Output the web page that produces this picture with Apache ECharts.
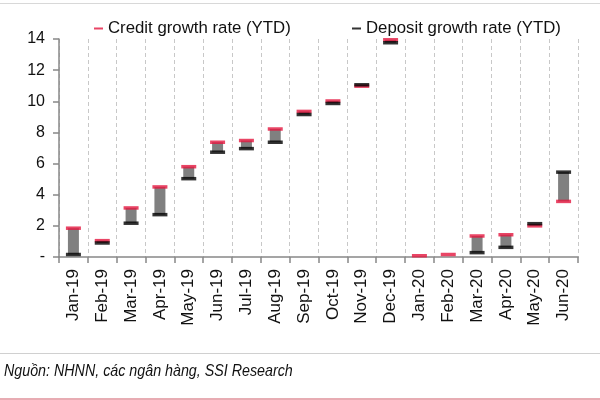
<!DOCTYPE html>
<html>
<head>
<meta charset="utf-8">
<style>
  html, body { margin: 0; padding: 0; background: #fff; }
  #chart { width: 600px; height: 400px; }
</style>
<script src="https://cdn.jsdelivr.net/npm/echarts@6/dist/echarts.min.js"></script>
</head>
<body>
<div id="chart"></div>
<script>
var categories = ['Jan-19','Feb-19','Mar-19','Apr-19','May-19','Jun-19','Jul-19','Aug-19','Sep-19','Oct-19','Nov-19','Dec-19','Jan-20','Feb-20','Mar-20','Apr-20','May-20','Jun-20'];
var credit  = [1.85, 1.05, 3.15, 4.5, 5.8, 7.37, 7.48, 8.22, 9.35, 10.02, 10.97, 13.95, 0.08, 0.16, 1.35, 1.43, 2.0, 3.57];
var deposit = [0.16, 0.9, 2.17, 2.72, 5.03, 6.73, 6.96, 7.37, 9.15, 9.86, 11.06, 13.76, null, null, 0.28, 0.62, 2.14, 5.45];
var yTicks = [0, 2, 4, 6, 8, 10, 12, 14];

var base = [], span = [];
for (var i = 0; i < categories.length; i++) {
  if (credit[i] == null || deposit[i] == null) { base.push(null); span.push(null); continue; }
  base.push(Math.min(credit[i], deposit[i]));
  span.push(Math.abs(credit[i] - deposit[i]));
}

var chart = echarts.init(document.getElementById('chart'), null, {renderer: 'canvas'});
var font = 'Liberation Sans, Arial, sans-serif';
chart.setOption({
  animation: false,
  backgroundColor: '#fff',
  grid: { left: 59, right: 22, top: 39, bottom: 143, containLabel: false },
  legend: [
    { data: [{name: 'Credit growth rate (YTD)', icon: 'rect'}], left: 89, top: 15, itemWidth: 9, itemHeight: 2,
      textStyle: { fontFamily: font, fontSize: 16.8, color: '#111' }, itemGap: 0, selectedMode: false },
    { data: [{name: 'Deposit growth rate (YTD)', icon: 'rect'}], left: 347, top: 15, itemWidth: 9, itemHeight: 2,
      textStyle: { fontFamily: font, fontSize: 16.8, color: '#111' }, itemGap: 0, selectedMode: false }
  ],
  xAxis: {
    type: 'category', data: categories, boundaryGap: true,
    axisLine: { lineStyle: { color: '#888', width: 1.5 } },
    axisTick: { show: true, length: 6, lineStyle: { color: '#888', width: 1.5 } },
    axisLabel: { rotate: 90, margin: 12, fontFamily: font, fontSize: 17, color: '#111', interval: 0 },
    splitLine: { show: true, interval: 0, lineStyle: { color: '#c8c8c8', type: [4, 3], width: 1 } }
  },
  yAxis: {
    type: 'value', min: 0, max: 14, interval: 2,
    axisLine: { show: true, lineStyle: { color: '#888', width: 1.5 } },
    axisTick: { show: true, length: 6, lineStyle: { color: '#888', width: 1.5 } },
    axisLabel: { margin: 14, fontFamily: font, fontSize: 16, color: '#111',
      formatter: function (v) { return v === 0 ? '-' : String(v); } },
    splitLine: { show: false }
  },
  series: [
    { type: 'bar', stack: 'g', data: base, barWidth: 11, itemStyle: { color: 'transparent' }, silent: true },
    { type: 'bar', stack: 'g', data: span, barWidth: 11, itemStyle: { color: '#808080' }, silent: true },
    { name: 'Credit growth rate (YTD)', type: 'scatter', data: credit, symbol: 'rect', symbolSize: [15, 3.5],
      itemStyle: { color: '#e3173e' }, z: 3 },
    { name: 'Deposit growth rate (YTD)', type: 'scatter', data: deposit, symbol: 'rect', symbolSize: [15, 3.5],
      itemStyle: { color: '#000' }, z: 4 }
  ],
  graphic: [
    { type: 'line', shape: { x1: 0, y1: 3.5, x2: 600, y2: 3.5 }, style: { stroke: '#d8d8d8', lineWidth: 1 } },
    { type: 'line', shape: { x1: 0, y1: 353.5, x2: 600, y2: 353.5 }, style: { stroke: '#d0d0d0', lineWidth: 1 } },
    { type: 'line', shape: { x1: 0, y1: 399, x2: 600, y2: 399 }, style: { stroke: '#e0909a', lineWidth: 1.5 } },
    { type: 'text', x: 4, y: 363, scaleX: 0.865, style: { text: 'Nguồn: NHNN, các ngân hàng, SSI Research',
      font: 'italic 16.5px "Liberation Sans", Arial, sans-serif', fill: '#111' } }
  ]
});
</script>
</body>
</html>
